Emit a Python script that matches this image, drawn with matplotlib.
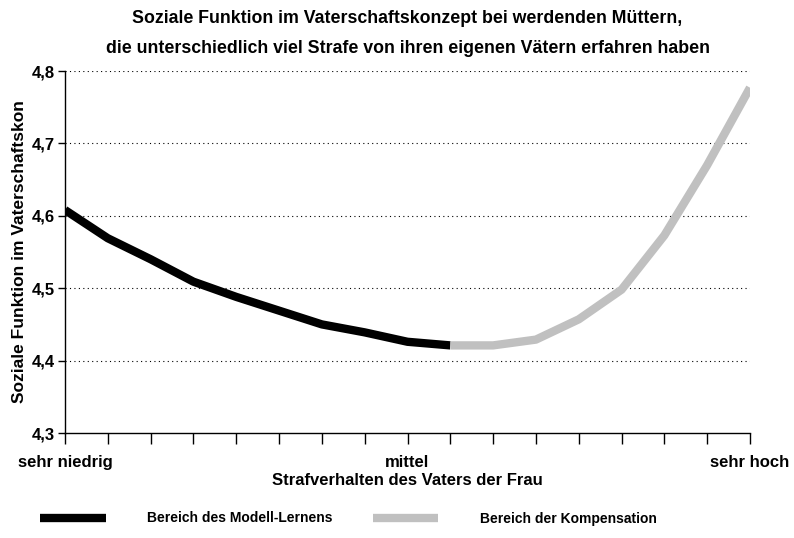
import matplotlib.pyplot as plt

plt.rcParams['font.family'] = ['Liberation Sans', 'DejaVu Sans']
plt.rcParams['font.weight'] = 'bold'

# Daten
x_modell = [0, 1, 2, 3, 4, 5, 6, 7, 8, 9]
y_modell = [4.608, 4.569, 4.540, 4.509, 4.488, 4.469, 4.450, 4.439, 4.426, 4.421]
x_komp = [9, 10, 11, 12, 13, 14, 15, 16]
y_komp = [4.421, 4.421, 4.429, 4.457, 4.498, 4.573, 4.670, 4.777]

x_ticklabels = ['sehr niedrig', '', '', '', '', '', '', '', 'mittel',
                '', '', '', '', '', '', '', 'sehr hoch']
y_ticks = [4.3, 4.4, 4.5, 4.6, 4.7, 4.8]
y_ticklabels = ['4,3', '4,4', '4,5', '4,6', '4,7', '4,8']

title = ('Soziale Funktion im Vaterschaftskonzept bei werdenden Müttern,\n'
         'die unterschiedlich viel Strafe von ihren eigenen Vätern erfahren haben')

fig = plt.figure(figsize=(7.94, 5.38), dpi=100)
ax = fig.add_axes([65 / 794, 1 - 433 / 538, 685 / 794, 362 / 538])

ax.plot(x_modell, y_modell, color='black', linewidth=6,
        solid_capstyle='butt', label='Bereich des Modell-Lernens', zorder=3)
ax.plot(x_komp, y_komp, color='#c0c0c0', linewidth=6,
        solid_capstyle='butt', label='Bereich der Kompensation', zorder=3)

ax.set_xlim(0, 16)
ax.set_ylim(4.3, 4.8)
ax.set_xticks(range(17))
ax.set_xticklabels(x_ticklabels, fontsize=12, fontweight='bold')
ax.set_yticks(y_ticks)
ax.set_yticklabels(y_ticklabels, fontsize=12, fontweight='bold')
ax.tick_params(axis='x', direction='out', length=8, width=1, pad=8)
ax.tick_params(axis='y', direction='out', length=5, width=1, pad=2)

for v in y_ticks[1:]:
    ax.axhline(v, color='black', linestyle=(0, (1, 3)), linewidth=0.8, zorder=1)

for s in ['top', 'right']:
    ax.spines[s].set_visible(False)
ax.spines['left'].set_linewidth(1)
ax.spines['bottom'].set_linewidth(1)

ax.set_xlabel('Strafverhalten des Vaters der Frau', fontsize=12,
              fontweight='bold', labelpad=2)
ax.set_ylabel('Soziale Funktion im Vaterschaftskon', fontsize=12.5,
              fontweight='bold', labelpad=4)
ax.set_title(title, fontsize=12.8, fontweight='bold', linespacing=2.0, pad=13)

fig.legend(loc='lower left', bbox_to_anchor=(0.035, 0.0), ncol=2, frameon=False,
           handlelength=4.7, handletextpad=3.0, columnspacing=2.9,
           prop={'size': 10, 'weight': 'bold'})

fig.savefig('out.png', dpi=100)
